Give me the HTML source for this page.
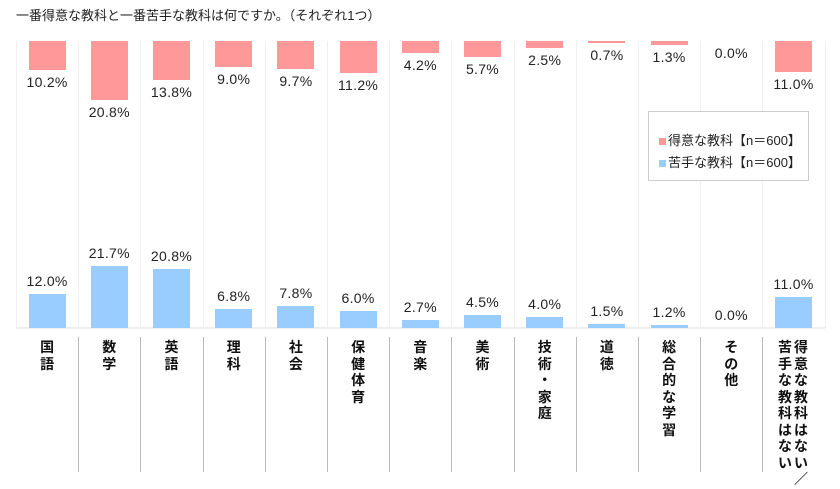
<!DOCTYPE html>
<html><head><meta charset="utf-8"><style>
body{margin:0;width:840px;height:472px;background:#fff;position:relative;overflow:hidden;font-family:"Liberation Sans","Noto Sans CJK JP",sans-serif;}
.a{position:absolute}
.v{position:absolute;font-size:14px;color:#222;text-align:center;width:62px;line-height:15px;letter-spacing:0.3px}
.c{position:absolute;font-size:14px;font-weight:bold;color:#111;text-align:center;line-height:16.5px;font-family:"Noto Sans CJK JP",sans-serif}
</style></head><body>
<div class="a" style="left:16px;top:5px;font-size:13px;color:#222;font-family:'Liberation Sans','Noto Sans CJK JP',sans-serif">一番得意な教科と一番苦手な教科は何ですか。（それぞれ1つ）</div>
<div id="g"></div>
<div class="a" style="left:648px;top:111px;width:159px;height:68px;border:1px solid #ccc;background:#fff;font-size:13px;color:#222">
<div class="a" style="left:10px;top:18px"><span style="display:inline-block;width:7px;height:7px;background:#f99;margin-right:2px"></span>得意な教科【n＝600】</div>
<div class="a" style="left:10px;top:40px"><span style="display:inline-block;width:7px;height:7px;background:#9cf;margin-right:2px"></span>苦手な教科【n＝600】</div>
</div>
<script>
var red=[10.2,20.8,13.8,9.0,9.7,11.2,4.2,5.7,2.5,0.7,1.3,0.0,11.0];
var blue=[12.0,21.7,20.8,6.8,7.8,6.0,2.7,4.5,4.0,1.5,1.2,0.0,11.0];
var cats=["国語","数学","英語","理科","社会","保健体育","音楽","美術","技術・家庭","道徳","総合的な学習","その他",""];
var h="",L=16,W=62.2,T=41,B=328,s=2.85;
h+='<div class="a" style="left:16px;top:327px;width:809px;height:2px;background:#eee"></div>';
h+='<div class="a" style="left:16px;top:41px;width:1px;height:287px;background:#f0f0f0"></div>';
for(var i=0;i<13;i++){
 var x=L+i*W, cx=x+W/2;
 h+='<div class="a" style="left:'+(x+W).toFixed(1)+'px;top:41px;width:1px;height:287px;background:#f0f0f0"></div>';
 if(i<12)h+='<div class="a" style="left:'+(x+W).toFixed(1)+'px;top:337px;width:1px;height:135px;background:#bbb"></div>';
 var rh=red[i]*s;
 h+='<div class="a" style="left:'+(cx-18.5).toFixed(1)+'px;top:41px;width:37px;height:'+rh.toFixed(1)+'px;background:#f99"></div>';
 h+='<div class="v" style="left:'+(cx-31).toFixed(1)+'px;top:'+(T+rh+5).toFixed(1)+'px">'+red[i].toFixed(1)+'%</div>';
 var bh=blue[i]*s;
 h+='<div class="a" style="left:'+(cx-18.5).toFixed(1)+'px;top:'+(B-bh).toFixed(1)+'px;width:37px;height:'+bh.toFixed(1)+'px;background:#9cf"></div>';
 h+='<div class="v" style="left:'+(cx-31).toFixed(1)+'px;top:'+(B-bh-20).toFixed(1)+'px">'+blue[i].toFixed(1)+'%</div>';
 if(i<12){
  h+='<div class="c" style="left:'+(cx-8).toFixed(1)+'px;top:339px;width:16px">'+cats[i].split("").join("<br>")+'</div>';
 }
}
var c1="得意な教科はない／",c2="苦手な教科はない";
h+='<div class="c" style="left:793px;top:339px;width:16px">'+c1.split("").join("<br>")+'</div>';
h+='<div class="c" style="left:777px;top:339px;width:16px">'+c2.split("").join("<br>")+'</div>';
document.getElementById("g").innerHTML=h;
</script>
</body></html>
